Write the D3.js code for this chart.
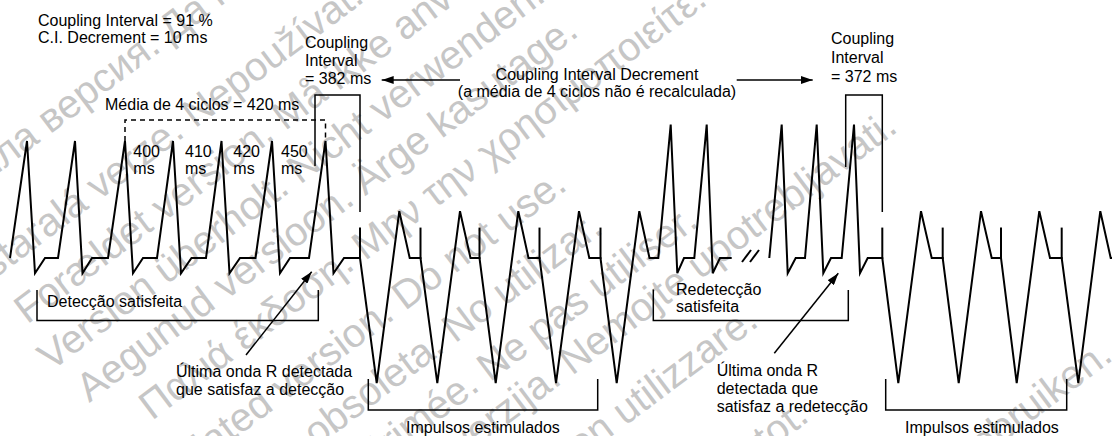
<!DOCTYPE html>
<html><head><meta charset="utf-8">
<script src="https://cdn.jsdelivr.net/npm/d3@7"></script>
<style>
html,body{margin:0;padding:0;background:#fff;overflow:hidden}
text{font-family:"Liberation Sans",Arial,Helvetica,sans-serif;font-size:16px;fill:#000}
</style>
</head><body>
<svg id="c" width="1112" height="436"></svg>
<script>
// ---- data (time units along the strip, amplitude in relative mV) ----
const R = 1, RT = 1.14, S = -0.13, J = 0, PP = 0.40, PV = -1.07, SP = 0.26;
const trace1 = [
  [10,J],[27,R],[35,S],[45,J],[58,J],
  [75,R],[82.5,S],[92,J],[108,J],
  [125,R],[133,S],[143,J],[157,J],
  [173,R],[181,S],[191.5,J],[206,J],
  [221.5,R],[229.5,S],[240,J],[255.5,J],
  [272,R],[280,S],[290,J],[309,J],
  [325.5,R],[333.5,S],[344,J],[360,J],
  [376.7,PV],[399.3,PP],[409.7,J],[420.5,J],
  [437.3,PV],[460,PP],[470.5,J],[479.5,J],
  [495.7,PV],[518.3,PP],[528.5,J],[539.5,J],
  [556,PV],[579,PP],[589.3,J],[600.5,J],
  [616.7,PV],[639.3,PP],[649.5,J],[658.3,J],
  [670.7,RT],[677.3,S],[684,J],[694.3,J],
  [706.7,RT],[712.7,S],[720,J],[731.7,J]
];
const trace2 = [
  [769.3,J],[781.7,RT],[787.7,S],[795.7,J],[805,J],
  [816.7,RT],[823.3,S],[831,J],[841.7,J],
  [854,RT],[860,S],[867.7,J],[882.3,J],
  [898.3,PV],[921,PP],[931.7,J],[942.7,J],
  [958.7,PV],[981,PP],[991.7,J],[1001,J],
  [1016.7,PV],[1039.3,PP],[1050,J],[1061.7,J],
  [1078.3,PV],[1100.3,PP],[1110.7,J],[1116,J]
];
const pulses = [360, 420.5, 479.5, 539.5, 600.5, 882.3, 942.7, 1001, 1061.7];
const intervalLabels = ["400", "410", "420", "450"];
const intervalStarts = [125, 173, 221.5, 272];
const watermarkTexts = [
  "Остаряла версия. Да не се използва.",
  "Zastaralá verze. Nepoužívat.",
  "Forældet version. Må ikke anvendes.",
  "Version überholt. Nicht verwenden.",
  "Aegunud versioon. Ärge kasutage.",
  "Παλιά έκδοση. Μην την χρησιμοποιείτε.",
  "Outdated version. Do not use.",
  "Versión obsoleta. No utilizar.",
  "Version périmée. Ne pas utiliser.",
  "Zastarjela verzija. Nemojte upotrebljavati.",
  "Versione obsoleta. Non utilizzare.",
  "Novecojusi versija. Neizmantot.",
  "Verouderde versie. Niet gebruiken."
];

// ---- scales ----
const W = 1112, H = 436;
const x = d3.scaleLinear().domain([0, W]).range([0, W]);
const y = d3.scaleLinear().domain([0, 1]).range([258, 141]);

const svg = d3.select("#c");

// ---- watermark (layout: diagonal line offset, key word, key word x) ----
const wmLayout = [
  [172, "версия", 50], [275, "Nepoužívat", 195], [345, "Må", 285], [410, "Nicht", 300],
  [470, "Ärge", 365], [535, "Μην", 365], [615, "Do", 405], [685, "No", 455],
  [750, "Ne", 490], [805, "upotrebljavati", 700], [895, "utilizzare", 625],
  [1028, "Neizmantot", 640], [1195, "gebruiken", 965]
];
const wm = svg.append("g");
watermarkTexts.forEach((s, i) => {
  const [c, key, kx] = wmLayout[i];
  const t = wm.append("text").text(s).style("font-size", "40px").style("fill", "#c6c6c6");
  const idx = s.indexOf(key);
  const off = idx > 0 ? t.node().getSubStringLength(0, idx) : 0;
  const sx = kx - off * 0.8, sy = (c - 0.75 * kx) + off * 0.6;
  t.attr("transform", `translate(${sx},${sy}) rotate(-36.87)`);
});

const line = d3.line().x(d => x(d[0])).y(d => y(d[1]));

// arrow marker
const defs = svg.append("defs");
defs.append("marker").attr("id","ah").attr("viewBox","0 0 12 8").attr("refX",12).attr("refY",4)
  .attr("markerWidth",12).attr("markerHeight",8).attr("markerUnits","userSpaceOnUse").attr("orient","auto")
  .append("path").attr("d","M0,0 L12,4 L0,8 Z").attr("fill","#000");

// traces
[trace1, trace2].forEach(t => svg.append("path").attr("d", line(t))
  .attr("fill","none").attr("stroke","#000").attr("stroke-width",2).attr("stroke-linejoin","miter"));

// pacing spikes
svg.selectAll(".spike").data(pulses).enter().append("line")
  .attr("x1", d => x(d)).attr("x2", d => x(d))
  .attr("y1", y(SP)).attr("y2", y(J) + 1)
  .attr("stroke","#000").attr("stroke-width",2);

// break marks
[[742,751],[750,759]].forEach(p => svg.append("line")
  .attr("x1",x(p[0])).attr("y1",262).attr("x2",x(p[1])).attr("y2",250)
  .attr("stroke","#000").attr("stroke-width",2));

const ann = svg.append("g").attr("fill","none").attr("stroke","#000").attr("stroke-width",1.5);
// dashed averaging bracket
ann.append("path").attr("d", `M${x(125)},${y(R)} V120 H${x(325.5)} V${y(R)}`)
  .attr("stroke-dasharray","5,4");
// coupling interval boxes
ann.append("path").attr("d", `M${x(315)},166 V95 H${x(360)} V212`);
ann.append("path").attr("d", `M${x(845.7)},167 V95 H${x(882.3)} V212`);
// detection brackets
ann.append("path").attr("d", `M${x(37)},290 V320.5 H${x(318.3)} V290`);
ann.append("path").attr("d", `M${x(653.3)},289.5 V320.5 H${x(848.3)} V290`);
// paced brackets
ann.append("path").attr("d", `M${x(368.3)},379 V410 H${x(597.7)} V379`);
ann.append("path").attr("d", `M${x(885.7)},379 V410 H${x(1066.7)} V379`);
// arrows
const arr = svg.append("g").attr("stroke","#000").attr("stroke-width",1.5);
arr.append("line").attr("x1",460).attr("y1",80).attr("x2",381.7).attr("y2",80).attr("marker-end","url(#ah)");
arr.append("line").attr("x1",736.7).attr("y1",80).attr("x2",812.7).attr("y2",80).attr("marker-end","url(#ah)");
arr.append("line").attr("x1",246).attr("y1",355).attr("x2",311.7).attr("y2",271.7).attr("marker-end","url(#ah)");
arr.append("line").attr("x1",774.3).attr("y1",353.3).attr("x2",838.3).attr("y2",273.3).attr("marker-end","url(#ah)");

// texts
function txt(s, tx, ty, anchor) {
  svg.append("text").attr("x", tx).attr("y", ty).attr("text-anchor", anchor || "start").text(s);
}
txt("Coupling Interval = 91 %", 38, 26);
txt("C.I. Decrement = 10 ms", 38, 42.5);
txt("Coupling", 305, 48); txt("Interval", 305, 66); txt("= 382 ms", 305, 84);
txt("Média de 4 ciclos = 420 ms", 105, 109.5);
txt("Coupling Interval Decrement", 597, 79.5, "middle");
txt("(a média de 4 ciclos não é recalculada)", 597, 96.5, "middle");
txt("Coupling", 831, 44); txt("Interval", 831, 63); txt("= 372 ms", 831, 82);
const labelOffsets = [8.3, 12, 11.8, 9];
intervalLabels.forEach((l, i) => {
  txt(l, x(intervalStarts[i] + labelOffsets[i]), 156.5);
  txt("ms", x(intervalStarts[i] + labelOffsets[i]), 173.5);
});
txt("Detecção satisfeita", 47, 307);
txt("Redetecção", 676, 295); txt("satisfeita", 676, 312);
txt("Última onda R detectada", 176, 376.5);
txt("que satisfaz a detecção", 176, 394.5);
txt("Última onda R", 716.7, 376); txt("detectada que", 716.7, 394); txt("satisfaz a redetecção", 716.7, 412);
txt("Impulsos estimulados", 406, 432.5);
txt("Impulsos estimulados", 905, 433);
</script>
</body></html>
